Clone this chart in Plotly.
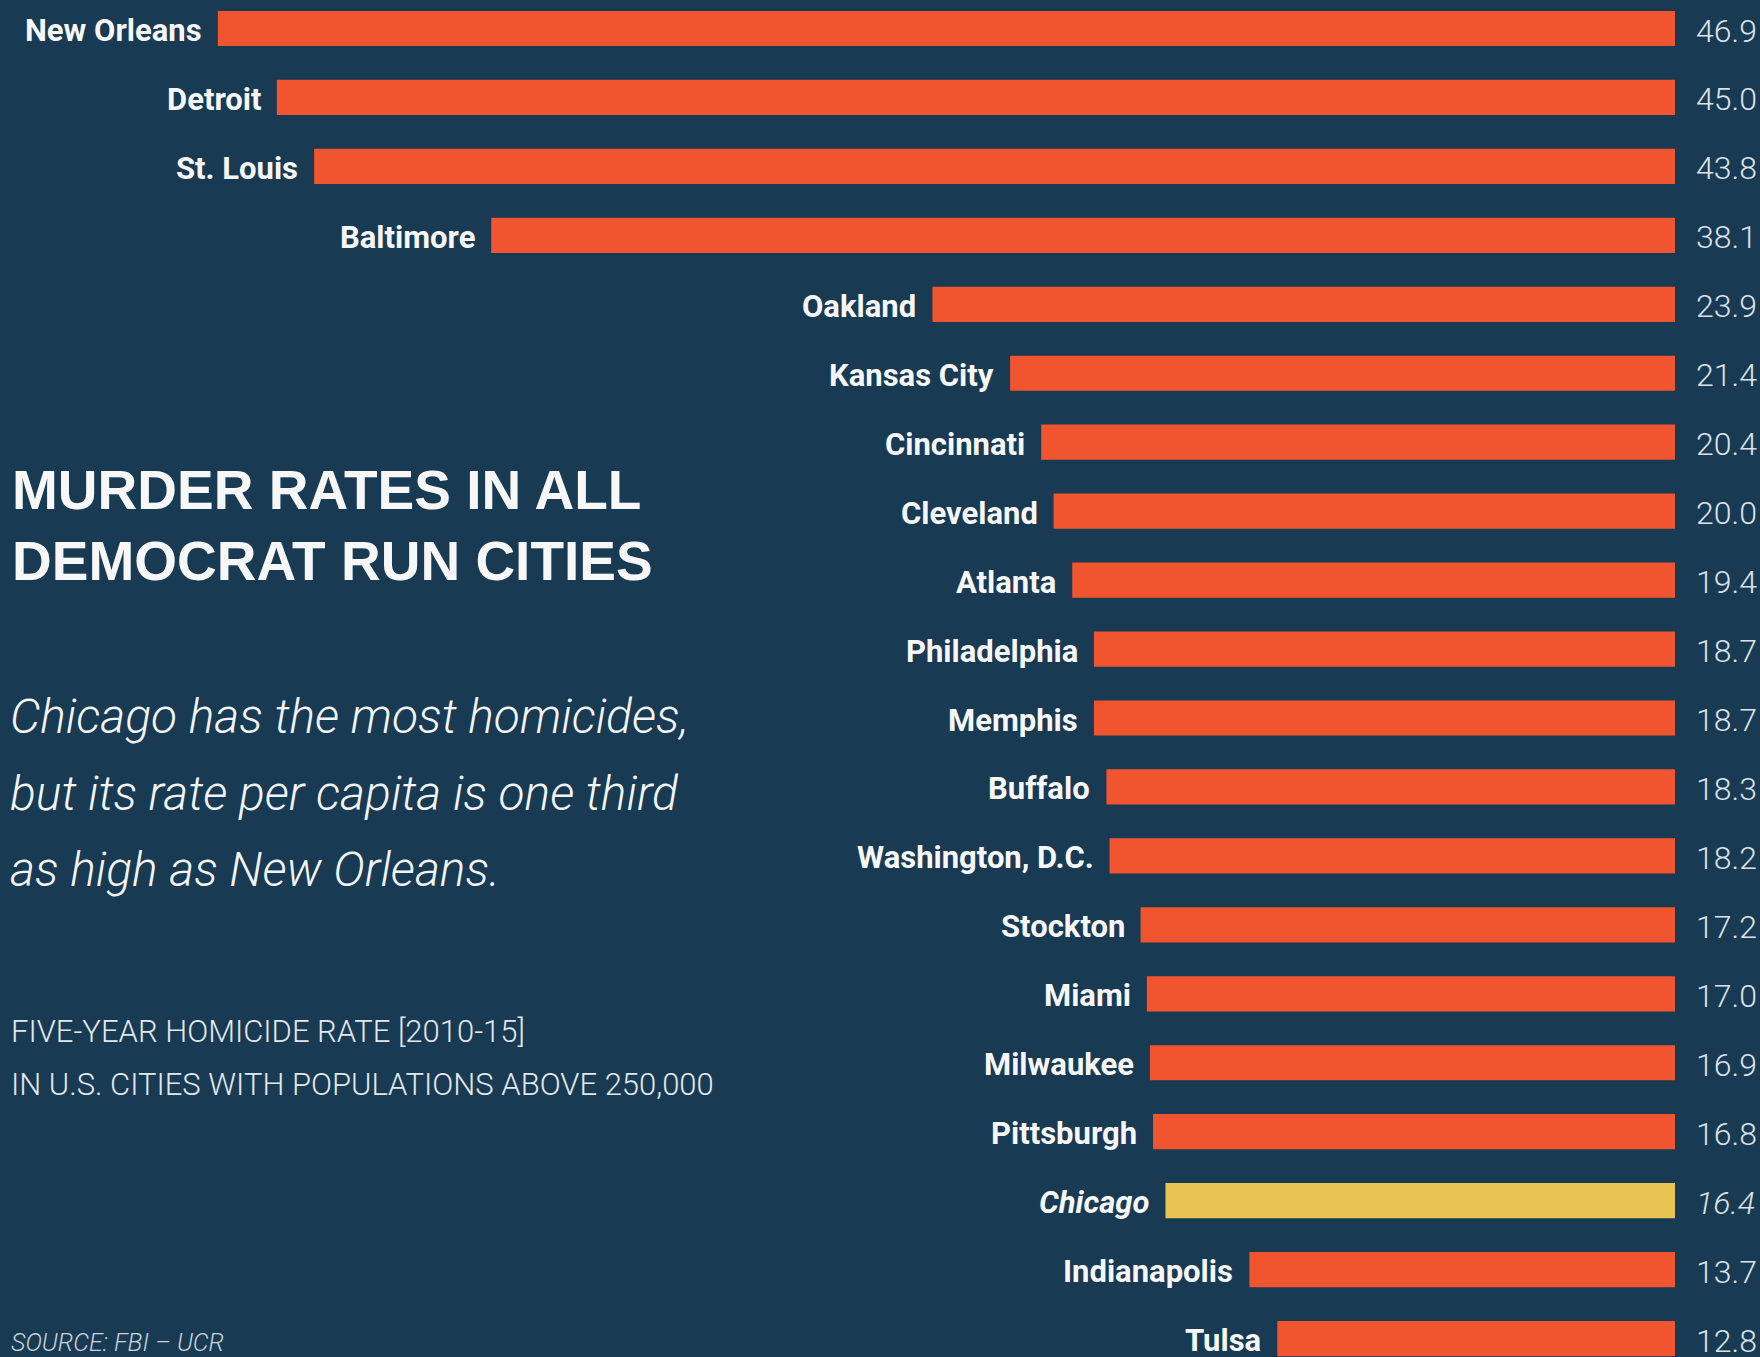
import plotly.graph_objects as go

cities = ["New Orleans", "Detroit", "St. Louis", "Baltimore", "Oakland", "Kansas City",
          "Cincinnati", "Cleveland", "Atlanta", "Philadelphia", "Memphis", "Buffalo",
          "Washington, D.C.", "Stockton", "Miami", "Milwaukee", "Pittsburgh", "Chicago",
          "Indianapolis", "Tulsa"]
rates = [46.9, 45.0, 43.8, 38.1, 23.9, 21.4, 20.4, 20.0, 19.4, 18.7, 18.7, 18.3,
         18.2, 17.2, 17.0, 16.9, 16.8, 16.4, 13.7, 12.8]
highlight = "Chicago"

title_lines = ["MURDER RATES IN ALL", "DEMOCRAT RUN CITIES"]
sub_lines = ["Chicago has the most homicides,", "but its rate per capita is one third",
             "as high as New Orleans."]
note_lines = ["FIVE-YEAR HOMICIDE RATE [2010-15]", "IN U.S. CITIES WITH POPULATIONS ABOVE 250,000"]
source_text = "SOURCE: FBI – UCR"

BG = "#183A52"
ORANGE = "#F0552F"
YELLOW = "#EAC452"
W, H = 1760, 1357
COND = "Roboto, Liberation Sans, sans-serif"

colors = [YELLOW if c == highlight else ORANGE for c in cities]

fig = go.Figure(go.Bar(
    x=rates, y=cities, orientation="h", marker=dict(color=colors, line=dict(width=0)),
    width=0.51, hoverinfo="skip"))

annotations = []
for c, v in zip(cities, rates):
    it = c == highlight
    annotations.append(dict(x=v, y=c, xref="x", yref="y", text=c, showarrow=False,
                            xanchor="right", yanchor="middle", xshift=-14, yshift=-2,
                            font=dict(family=COND, size=31, color="#F7F7F7", weight=700,
                                      style="italic" if it else "normal")))
    annotations.append(dict(x=0, y=c, xref="x", yref="y", text=f"{v:.1f}", showarrow=False,
                            xanchor="left", yanchor="middle", xshift=19, yshift=-2,
                            font=dict(family=COND, size=32, color="#DCE2E8", weight=300,
                                      style="italic" if it else "normal")))

def py(p):
    return 1 - p / H

for i, t in enumerate(title_lines):
    annotations.append(dict(x=10 / W, y=py(490 + 71 * i), xref="paper", yref="paper",
                            text=t, showarrow=False, xanchor="left", yanchor="middle",
                            font=dict(family="Liberation Sans, Arial, sans-serif", size=55,
                                      color="#F7F7F7", weight=700)))
for i, t in enumerate(sub_lines):
    annotations.append(dict(x=8 / W, y=py(716 + 77 * i), xref="paper", yref="paper",
                            text=t, showarrow=False, xanchor="left", yanchor="middle",
                            font=dict(family=COND, size=48, color="#F2F4F6", weight=300,
                                      style="italic")))
for i, t in enumerate(note_lines):
    annotations.append(dict(x=9 / W, y=py(1031 + 53 * i), xref="paper", yref="paper",
                            text=t, showarrow=False, xanchor="left", yanchor="middle",
                            font=dict(family=COND, size=31, color="#E3E8EC", weight=300)))
annotations.append(dict(x=9 / W, y=py(1342), xref="paper", yref="paper",
                        text=source_text, showarrow=False, xanchor="left",
                        yanchor="middle", font=dict(family=COND, size=25, color="#C9D2DA",
                                                    weight=300, style="italic")))

zero_px = 1675
px_per_unit = 31.07
row0, row_step = 28.5, 68.95

fig.update_layout(
    width=W, height=H, paper_bgcolor=BG, plot_bgcolor=BG,
    margin=dict(l=0, r=0, t=0, b=0), showlegend=False,
    xaxis=dict(domain=[0, zero_px / W], range=[zero_px / px_per_unit, 0],
               visible=False, fixedrange=True),
    yaxis=dict(range=[(H - row0) / row_step, -row0 / row_step], visible=False,
               fixedrange=True, categoryorder="array", categoryarray=cities),
    annotations=annotations,
)

fig.write_html("out.html", config={"displayModeBar": False},
               post_script="document.body.style.margin='0px';"
                           "document.body.style.background='#183A52';"
                           "document.body.style.overflow='hidden';")
